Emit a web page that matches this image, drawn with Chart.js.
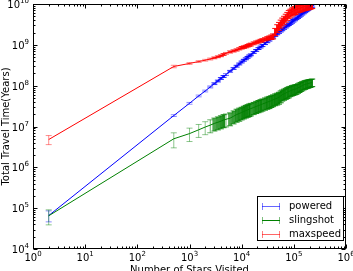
<!DOCTYPE html>
<html>
<head>
<meta charset="utf-8">
<script src="https://cdn.jsdelivr.net/npm/chart.js@4.4.1/dist/chart.umd.min.js"></script>
<style>
  html, body { margin: 0; padding: 0; background: #fff; }
  #travelChart { display: block; }
</style>
</head>
<body>
<canvas id="travelChart" width="353" height="271"></canvas>
<script>
// stars visited (x) for every measured point
const starsVisited = [
  2, 500, 1000, 1500, 2000,
  2500, 3000, 3500, 4000, 4500,
  5000, 6000, 7000, 8000, 9000,
  10000, 11000, 12000, 13000, 14000,
  15000, 17000, 19000, 21000, 23000,
  25000, 28000, 31000, 34000, 37000,
  40000, 44000, 48000, 52000, 56000,
  60000, 65000, 70000, 75000, 80000,
  86000, 92000, 98000, 105000, 112000,
  120000, 128000, 136000, 145000, 155000,
  165000, 175000, 185000, 195000, 205000,
  215000, 225000
];

const powered = [
  6.6e4, 1.85e7, 3.7e7, 5.6e7, 7.4e7,
  9.3e7, 1.12e8, 1.3e8, 1.5e8, 1.68e8,
  1.87e8, 2.25e8, 2.63e8, 3.0e8, 3.4e8,
  3.8e8, 4.2e8, 4.55e8, 4.95e8, 5.35e8,
  5.7e8, 6.5e8, 7.3e8, 8.1e8, 8.85e8,
  9.65e8, 1.08e9, 1.2e9, 1.32e9, 1.44e9,
  1.56e9, 1.72e9, 1.88e9, 2.04e9, 2.2e9,
  2.36e9, 2.56e9, 2.76e9, 2.96e9, 3.17e9,
  3.41e9, 3.65e9, 3.9e9, 4.18e9, 4.46e9,
  4.78e9, 5.1e9, 5.43e9, 5.8e9, 6.2e9,
  6.6e9, 7.0e9, 7.4e9, 7.8e9, 8.2e9,
  8.6e9, 9.0e9
];

const slingshot = [
  6.5e4, 5.0e6, 6.7e6, 8.3e6, 9.7e6,
  1.08e7, 1.19e7, 1.27e7, 1.35e7, 1.44e7,
  1.5e7, 1.6e7, 1.78e7, 1.96e7, 2.08e7,
  2.2e7, 2.33e7, 2.45e7, 2.55e7, 2.65e7,
  2.75e7, 2.92e7, 3.1e7, 3.25e7, 3.4e7,
  3.55e7, 3.75e7, 3.95e7, 4.1e7, 4.3e7,
  4.5e7, 4.75e7, 4.95e7, 5.2e7, 5.6e7,
  6.0e7, 6.3e7, 6.6e7, 6.9e7, 7.2e7,
  7.5e7, 7.8e7, 8.0e7, 8.2e7, 8.4e7,
  8.8e7, 9.2e7, 9.6e7, 1.0e8, 1.04e8,
  1.07e8, 1.1e8, 1.12e8, 1.14e8, 1.16e8,
  1.18e8, 1.2e8
];

const maxspeed = [
  4.8e6, 2.95e8, 3.5e8, 3.9e8, 4.2e8,
  4.5e8, 4.8e8, 5.1e8, 5.4e8, 5.8e8,
  6.2e8, 6.7e8, 7.1e8, 7.5e8, 8.0e8,
  8.5e8, 8.8e8, 9.1e8, 9.5e8, 9.9e8,
  1.02e9, 1.09e9, 1.15e9, 1.2e9, 1.26e9,
  1.3e9, 1.37e9, 1.44e9, 1.5e9, 1.55e9,
  1.62e9, 2.1e9, 2.55e9, 2.9e9, 3.3e9,
  3.7e9, 4.1e9, 4.6e9, 5.1e9, 5.7e9,
  6.1e9, 6.5e9, 6.8e9, 7.1e9, 7.3e9,
  7.6e9, 7.8e9, 8.0e9, 8.3e9, 8.5e9,
  8.7e9, 8.9e9, 9.0e9, 9.1e9, 9.3e9,
  9.5e9, 9.7e9
];

// error bar half-heights, as a fraction of the value
const poweredErr = [
  0.3, 0.05, 0.05, 0.05, 0.05,
  0.05, 0.05, 0.05, 0.05, 0.05,
  0.05, 0.05, 0.05, 0.05, 0.05,
  0.05, 0.05, 0.05, 0.05, 0.05,
  0.05, 0.05, 0.05, 0.05, 0.05,
  0.06, 0.06, 0.06, 0.06, 0.06,
  0.06, 0.06, 0.06, 0.06, 0.06,
  0.06, 0.06, 0.06, 0.06, 0.06,
  0.07, 0.07, 0.07, 0.07, 0.07,
  0.07, 0.07, 0.07, 0.07, 0.07,
  0.07, 0.07, 0.07, 0.07, 0.07,
  0.07, 0.07
];

const slingshotErr = [
  0.4, 0.4, 0.36, 0.35, 0.35,
  0.35, 0.35, 0.35, 0.35, 0.35,
  0.35, 0.35, 0.35, 0.35, 0.35,
  0.34, 0.34, 0.34, 0.34, 0.34,
  0.34, 0.33, 0.33, 0.33, 0.33,
  0.33, 0.33, 0.33, 0.33, 0.32,
  0.32, 0.32, 0.32, 0.32, 0.32,
  0.3, 0.3, 0.3, 0.3, 0.3,
  0.28, 0.28, 0.28, 0.27, 0.27,
  0.26, 0.26, 0.25, 0.25, 0.24,
  0.24, 0.23, 0.23, 0.22, 0.22,
  0.21, 0.21
];

const maxspeedErr = [
  0.25, 0.07, 0.05, 0.05, 0.05,
  0.05, 0.05, 0.05, 0.05, 0.05,
  0.05, 0.06, 0.06, 0.06, 0.06,
  0.07, 0.07, 0.07, 0.07, 0.07,
  0.08, 0.08, 0.08, 0.08, 0.08,
  0.09, 0.09, 0.1, 0.1, 0.12,
  0.14, 0.2, 0.22, 0.22, 0.22,
  0.22, 0.22, 0.22, 0.22, 0.22,
  0.22, 0.22, 0.22, 0.22, 0.22,
  0.2, 0.2, 0.2, 0.2, 0.2,
  0.2, 0.2, 0.2, 0.2, 0.2,
  0.2, 0.2
];

const xDecades = [0, 1, 2, 3, 4, 5, 6];
const yDecades = [4, 5, 6, 7, 8, 9, 10];

const series = [
  { label: 'powered', values: powered, err: poweredErr, color: '0,0,255', lineAlpha: 0.6 },
  { label: 'slingshot', values: slingshot, err: slingshotErr, color: '0,128,0', lineAlpha: 1 },
  { label: 'maxspeed', values: maxspeed, err: maxspeedErr, color: '255,0,0', lineAlpha: 0.6 }
];

const FONT = '"DejaVu Sans", sans-serif';

function toPoints(values) {
  return starsVisited.map((x, i) => ({ x: x, y: values[i] }));
}

// vertical error bars with caps, drawn right after each dataset's line.
// where bars sit closer than a few pixels they pile up, so they get wider
// and darker there, like the overlapping bars of the original
const errorBars = {
  id: 'errorBars',
  afterDatasetDraw(chart, args) {
    const s = series[args.index];
    const ctx = chart.ctx;
    const area = chart.chartArea;
    const xs = chart.scales.x, ys = chart.scales.y;
    const pxs = starsVisited.map(x => xs.getPixelForValue(x));
    ctx.save();
    ctx.beginPath();
    ctx.rect(area.left, area.top, area.right - area.left, area.bottom - area.top);
    ctx.clip();
    s.values.forEach((v, i) => {
      const e = v * s.err[i];
      const gap = i < pxs.length - 1 ? pxs[i + 1] - pxs[i] : pxs[i] - pxs[i - 1];
      const dense = Math.max(0, Math.min(1, (5 - gap) / 3));
      const alpha = 0.45 + dense * 0.5;
      const px = pxs[i];
      const top = ys.getPixelForValue(v + e);
      const bot = ys.getPixelForValue(v - e);
      ctx.strokeStyle = 'rgba(' + s.color + ',' + alpha + ')';
      ctx.lineWidth = gap < 3.5 ? Math.max(1, gap + 0.5) : 1;
      ctx.beginPath();
      ctx.moveTo(px, top); ctx.lineTo(px, bot);
      ctx.stroke();
      ctx.lineWidth = 1;
      ctx.beginPath();
      ctx.moveTo(px - 3, top); ctx.lineTo(px + 3, top);
      ctx.moveTo(px - 3, bot); ctx.lineTo(px + 3, bot);
      ctx.stroke();
    });
    ctx.restore();
  }
};

function drawPow(ctx, exp, x, y, align) {
  ctx.font = '10px ' + FONT;
  const wBase = ctx.measureText('10').width;
  ctx.font = '7px ' + FONT;
  const wExp = ctx.measureText(String(exp)).width;
  const total = wBase + wExp;
  let left = align === 'center' ? x - total / 2 : x - total;
  ctx.textAlign = 'left';
  ctx.textBaseline = 'alphabetic';
  ctx.font = '10px ' + FONT;
  ctx.fillText('10', left, y);
  ctx.font = '7px ' + FONT;
  ctx.fillText(String(exp), left + wBase, y - 5);
}

// frame, inward ticks on all sides, tick labels, axis titles, legend
const frameAndLabels = {
  id: 'frameAndLabels',
  afterDraw(chart) {
    const ctx = chart.ctx;
    const a = chart.chartArea;
    const xs = chart.scales.x, ys = chart.scales.y;
    ctx.save();
    ctx.strokeStyle = '#000';
    ctx.lineWidth = 1;
    const L = Math.round(a.left) + 0.5, R = Math.round(a.right) - 0.5;
    const T = Math.round(a.top) + 0.5, B = Math.round(a.bottom) - 0.5;
    ctx.strokeRect(L, T, R - L, B - T);

    ctx.beginPath();
    xDecades.forEach(d => {
      const px = Math.round(xs.getPixelForValue(Math.pow(10, d))) + 0.5;
      ctx.moveTo(px, B); ctx.lineTo(px, B - 4);
      ctx.moveTo(px, T); ctx.lineTo(px, T + 4);
      if (d < xDecades[xDecades.length - 1]) {
        for (let m = 2; m <= 9; m++) {
          const mx = Math.round(xs.getPixelForValue(m * Math.pow(10, d))) + 0.5;
          ctx.moveTo(mx, B); ctx.lineTo(mx, B - 2);
          ctx.moveTo(mx, T); ctx.lineTo(mx, T + 2);
        }
      }
    });
    yDecades.forEach(d => {
      const py = Math.round(ys.getPixelForValue(Math.pow(10, d))) + 0.5;
      ctx.moveTo(L, py); ctx.lineTo(L + 4, py);
      ctx.moveTo(R, py); ctx.lineTo(R - 4, py);
      if (d < yDecades[yDecades.length - 1]) {
        for (let m = 2; m <= 9; m++) {
          const my = Math.round(ys.getPixelForValue(m * Math.pow(10, d))) + 0.5;
          ctx.moveTo(L, my); ctx.lineTo(L + 2, my);
          ctx.moveTo(R, my); ctx.lineTo(R - 2, my);
        }
      }
    });
    ctx.stroke();

    ctx.fillStyle = '#000';
    xDecades.forEach(d => {
      drawPow(ctx, d, xs.getPixelForValue(Math.pow(10, d)), a.bottom + 12, 'center');
    });
    yDecades.forEach(d => {
      drawPow(ctx, d, a.left - 4, ys.getPixelForValue(Math.pow(10, d)) + 4, 'right');
    });

    ctx.font = '10px ' + FONT;
    ctx.textAlign = 'center';
    ctx.textBaseline = 'alphabetic';
    ctx.fillText('Number of Stars Visited', (a.left + a.right) / 2, 273);
    ctx.save();
    ctx.translate(9, (a.top + a.bottom) / 2);
    ctx.rotate(-Math.PI / 2);
    ctx.fillText('Total Travel Time(Years)', 0, 0);
    ctx.restore();

    // legend
    ctx.fillStyle = '#fff';
    ctx.fillRect(257.5, 196.5, 86, 44);
    ctx.strokeStyle = '#000';
    ctx.strokeRect(257.5, 196.5, 86, 44);
    series.forEach((s, i) => {
      const cy = 206.5 + i * 14;
      ctx.strokeStyle = 'rgba(' + s.color + ',' + s.lineAlpha + ')';
      ctx.beginPath();
      ctx.moveTo(262, cy); ctx.lineTo(280, cy);
      ctx.stroke();
      ctx.strokeStyle = 'rgba(' + s.color + ',0.5)';
      ctx.beginPath();
      ctx.moveTo(262.5, cy - 3.5); ctx.lineTo(262.5, cy + 3.5);
      ctx.moveTo(279.5, cy - 3.5); ctx.lineTo(279.5, cy + 3.5);
      ctx.stroke();
      ctx.fillStyle = '#000';
      ctx.textAlign = 'left';
      ctx.textBaseline = 'middle';
      ctx.font = '10px ' + FONT;
      ctx.fillText(s.label, 289, cy);
    });
    ctx.restore();
  }
};

const ctx = document.getElementById('travelChart').getContext('2d');

new Chart(ctx, {
  type: 'scatter',
  data: {
    datasets: series.map((s, i) => ({
      label: s.label,
      data: toPoints(s.values),
      showLine: true,
      borderColor: 'rgb(' + s.color + ')',
      backgroundColor: 'rgb(' + s.color + ')',
      borderWidth: 1,
      pointRadius: 0,
      order: 3 - i
    }))
  },
  options: {
    responsive: false,
    animation: false,
    layout: { padding: { left: 33, top: 4, right: 7, bottom: 22 } },
    plugins: {
      legend: { display: false },
      tooltip: { enabled: false }
    },
    scales: {
      x: { type: 'logarithmic', min: 1, max: 1e6, display: false },
      y: { type: 'logarithmic', min: 1e4, max: 1e10, display: false }
    }
  },
  plugins: [errorBars, frameAndLabels]
});
</script>
</body>
</html>
